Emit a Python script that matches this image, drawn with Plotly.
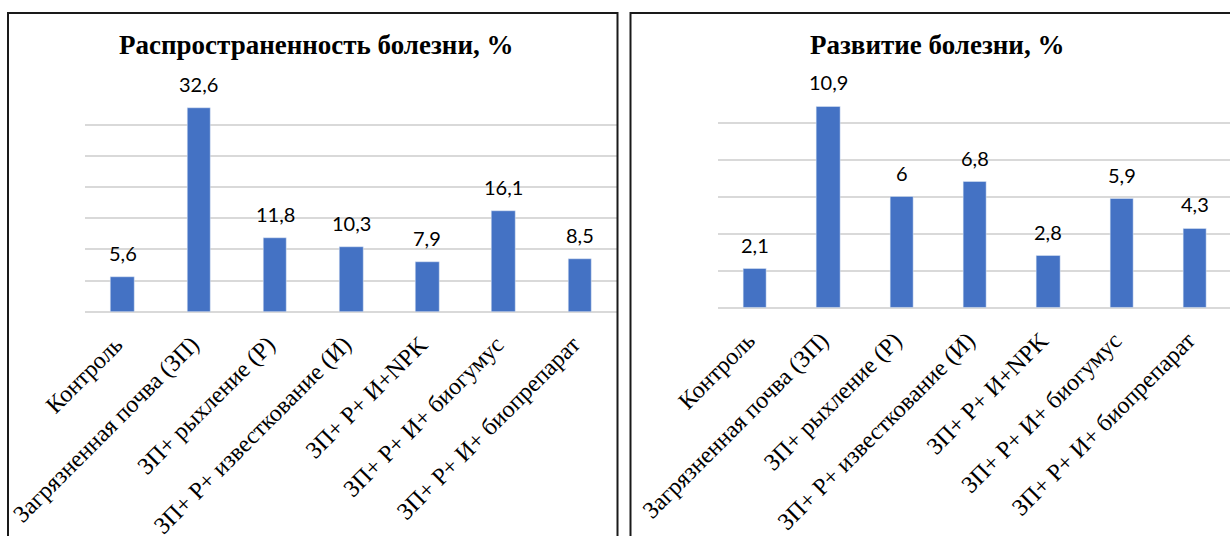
import plotly.graph_objects as go

# Treatment variants (shared by both panels)
categories = [
    "Контроль",
    "Загрязненная почва (ЗП)",
    "ЗП+ рыхление (Р)",
    "ЗП+ Р+ известкование (И)",
    "ЗП+ Р+ И+NPK",
    "ЗП+ Р+ И+ биогумус",
    "ЗП+ Р+ И+ биопрепарат",
]

# Disease prevalence, %
prevalence = [5.6, 32.6, 11.8, 10.3, 7.9, 16.1, 8.5]
prevalence_labels = ["5,6", "32,6", "11,8", "10,3", "7,9", "16,1", "8,5"]

# Disease development, %
development = [2.1, 10.9, 6.0, 6.8, 2.8, 5.9, 4.3]
development_labels = ["2,1", "10,9", "6", "6,8", "2,8", "5,9", "4,3"]

titles = ["Распространенность болезни, %", "Развитие болезни, %"]

W, H = 1230, 536
BAR = "#4472C4"
GRID = "#d9d9d9"
SERIF = "Liberation Serif"
SANS = "Lato"


def px(x):
    return x / W


def py(y):
    return 1 - y / H


fig = go.Figure()

fig.add_trace(go.Bar(x=categories, y=prevalence, marker_color=BAR,
                     width=0.31, xaxis="x", yaxis="y", hoverinfo="skip"))
fig.add_trace(go.Bar(x=categories, y=development, marker_color=BAR,
                     width=0.32, xaxis="x2", yaxis="y2", hoverinfo="skip"))

annotations = []
for xa, ya, vals, labs in (("x", "y", prevalence, prevalence_labels),
                           ("x2", "y2", development, development_labels)):
    for c, v, t in zip(categories, vals, labs):
        annotations.append(dict(
            x=c, y=v, xref=xa, yref=ya, text=t, showarrow=False,
            yanchor="bottom", yshift=10,
            font=dict(family=SANS, size=20, color="#000000"),
        ))

annotations.append(dict(x=px(316), y=py(45), xref="paper", yref="paper",
                        text=f"<b>{titles[0]}</b>", showarrow=False,
                        xanchor="center", yanchor="middle",
                        font=dict(family=SERIF, size=27, color="#000000")))
annotations.append(dict(x=px(937), y=py(45), xref="paper", yref="paper",
                        text=f"<b>{titles[1]}</b>", showarrow=False,
                        xanchor="center", yanchor="middle",
                        font=dict(family=SERIF, size=27, color="#000000")))

yaxis_common = dict(
    showticklabels=False, showgrid=True, gridcolor=GRID, gridwidth=1.6,
    zeroline=True, zerolinecolor=GRID, zerolinewidth=1.6,
    showline=False, ticks="", automargin=False,
)

fig.update_layout(
    width=W, height=H,
    margin=dict(l=0, r=0, t=0, b=0, pad=0, autoexpand=False),
    paper_bgcolor="white", plot_bgcolor="white",
    font=dict(family=SERIF, color="#000000"),
    showlegend=False,
    bargap=0.0,
    annotations=annotations,
    shapes=[
        dict(type="rect", xref="paper", yref="paper",
             x0=px(8), x1=px(617.5), y0=-0.05, y1=py(13),
             line=dict(color="#1a1a1a", width=2), fillcolor="rgba(0,0,0,0)"),
        dict(type="rect", xref="paper", yref="paper",
             x0=px(630.5), x1=1.05, y0=-0.05, y1=py(13),
             line=dict(color="#1a1a1a", width=2), fillcolor="rgba(0,0,0,0)"),
    ],
)

fig.update_layout(
    xaxis=dict(domain=[px(84.5), px(618)], range=[-0.5, 6.5], anchor="y"),
    yaxis=dict(domain=[py(311.7), py(93.0)], range=[0, 35.05], dtick=5,
               tick0=0, anchor="x", **yaxis_common),
    xaxis2=dict(domain=[px(718.4), 1.0], range=[-0.5, 6.478], anchor="y2"),
    yaxis2=dict(domain=[py(307.7), py(85.7)], range=[0, 12.02], dtick=2,
                tick0=0, anchor="x2", **yaxis_common),
)

# category axes: rotated serif labels, no ticks or lines
fig.update_xaxes(
    type="category", tickangle=-45, showgrid=False, zeroline=False,
    showline=False, ticks="", automargin=False,
    tickfont=dict(family=SERIF, size=24, color="#000000"),
    ticklabelshift=-7, ticklabelstandoff=13,
)

fig.write_html("out.html")
